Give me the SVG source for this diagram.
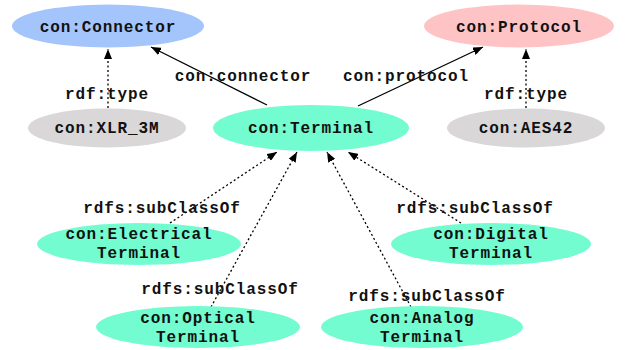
<svg xmlns="http://www.w3.org/2000/svg" width="626" height="350" viewBox="0 0 626 350">
<style>
text{font-family:"Liberation Mono","Courier New",monospace;font-weight:bold;font-size:16px;letter-spacing:0.9px;fill:#111;text-anchor:middle}
.e{stroke:#000;stroke-width:1.3;fill:none}
.d{stroke-dasharray:2,2.5}
.t{fill:#73fccf}
.g{fill:#d9d7d8}
</style>
<defs>
<marker id="a" viewBox="0 0 10 8" refX="10" refY="4" markerWidth="10" markerHeight="8" markerUnits="userSpaceOnUse" orient="auto">
<path d="M0,0L10,4L0,8z" fill="#000"/>
</marker>
</defs>
<rect width="626" height="350" fill="#fff"/>
<g id="connectors">
<line class="e" x1="267" y1="105" x2="151" y2="47" marker-end="url(#a)"/>
<line class="e" x1="358" y1="106" x2="483" y2="47" marker-end="url(#a)"/>
<line class="e d" x1="108" y1="108" x2="108" y2="49" marker-end="url(#a)"/>
<line class="e d" x1="526" y1="108" x2="526" y2="49" marker-end="url(#a)"/>
<line class="e d" x1="170" y1="223" x2="277" y2="152" marker-end="url(#a)"/>
<line class="e d" x1="211" y1="307" x2="297" y2="152" marker-end="url(#a)"/>
<line class="e d" x1="411" y1="307" x2="327" y2="152" marker-end="url(#a)"/>
<line class="e d" x1="461" y1="223" x2="348" y2="152" marker-end="url(#a)"/>
<text x="243" y="81">con:connector</text>
<text x="107" y="99">rdf:type</text>
<text x="406" y="81">con:protocol</text>
<text x="526" y="99">rdf:type</text>
<text x="162" y="213">rdfs:subClassOf</text>
<text x="220" y="294">rdfs:subClassOf</text>
<text x="475" y="213">rdfs:subClassOf</text>
<text x="427" y="301">rdfs:subClassOf</text>
</g>
<g id="n-connector"><ellipse cx="108" cy="26" rx="96" ry="21.5" fill="#a4c4fc"/><text x="108" y="32">con:Connector</text></g>
<g id="n-protocol"><ellipse cx="519" cy="26" rx="95" ry="21.5" fill="#fec4c5"/><text x="519" y="32">con:Protocol</text></g>
<g id="n-xlr"><ellipse class="g" cx="107" cy="128" rx="79" ry="19.5"/><text x="107" y="133">con:XLR_3M</text></g>
<g id="n-terminal"><ellipse class="t" cx="311" cy="128" rx="98" ry="23"/><text x="311" y="133">con:Terminal</text></g>
<g id="n-aes"><ellipse class="g" cx="526" cy="128" rx="79" ry="19.5"/><text x="526" y="133">con:AES42</text></g>
<g id="n-electrical"><ellipse class="t" cx="139" cy="244" rx="102" ry="21"/><text x="139" y="239">con:Electrical</text><text x="139" y="258">Terminal</text></g>
<g id="n-digital"><ellipse class="t" cx="491" cy="244" rx="100" ry="21"/><text x="491" y="239">con:Digital</text><text x="491" y="258">Terminal</text></g>
<g id="n-optical"><ellipse class="t" cx="198" cy="327" rx="102" ry="21"/><text x="198" y="323">con:Optical</text><text x="198" y="342">Terminal</text></g>
<g id="n-analog"><ellipse class="t" cx="422" cy="327" rx="101" ry="21"/><text x="422" y="323">con:Analog</text><text x="422" y="342">Terminal</text></g>
</svg>
